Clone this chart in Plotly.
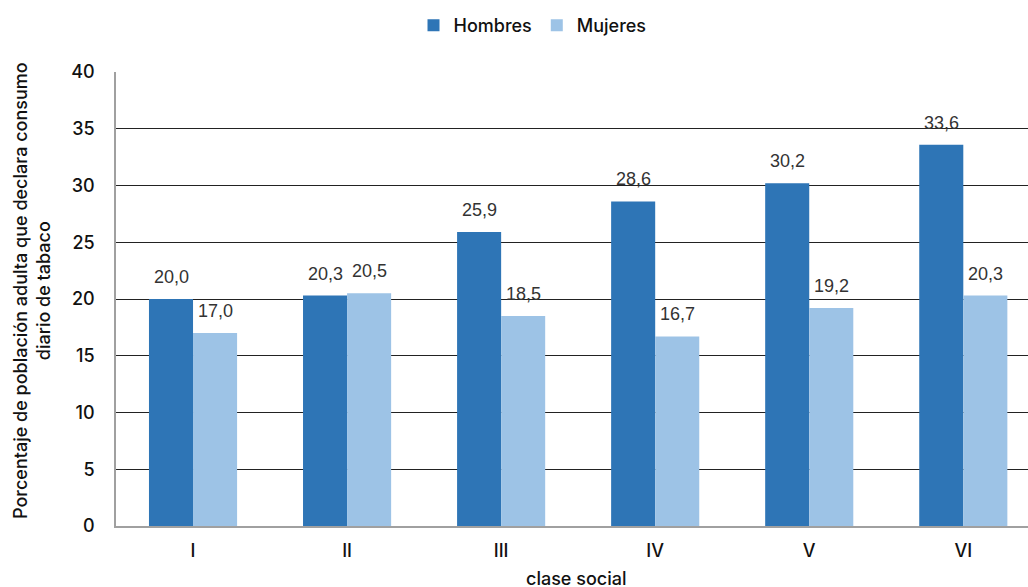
import plotly.graph_objects as go

categories = ["I", "II", "III", "IV", "V", "VI"]
hombres = [20.0, 20.3, 25.9, 28.6, 30.2, 33.6]
mujeres = [17.0, 20.5, 18.5, 16.7, 19.2, 20.3]

FONT = "Inter, Liberation Sans, Arial, sans-serif"
LABFONT = "Liberation Sans, Arial, sans-serif"

fig = go.Figure()
fig.add_trace(go.Bar(
    name="Hombres", x=categories, y=hombres,
    marker=dict(color="#2E75B6", line=dict(width=0)),
))
fig.add_trace(go.Bar(
    name="Mujeres", x=categories, y=mujeres,
    marker=dict(color="#9DC3E6", line=dict(width=0)),
))

def fmt(v):
    return f"{v:.1f}".replace(".", ",")

annotations = []
for series, shift in ((hombres, -22), (mujeres, 22)):
    for c, v in zip(categories, series):
        annotations.append(dict(
            text=fmt(v), x=c, y=v, xref="x", yref="y",
            xshift=shift, yshift=10, xanchor="center", yanchor="bottom",
            showarrow=False,
            font=dict(family=LABFONT, size=18, color="#333333"),
        ))

annotations += [
    dict(text="Porcentaje de población adulta que declara consumo<br>diario de tabaco",
         xref="paper", yref="paper", x=(32 - 116) / 912, y=(526 - 291) / 454,
         xanchor="center", yanchor="middle", textangle=-90, showarrow=False,
         font=dict(family=FONT, size=18, color="#111111", weight=500)),
    dict(text="clase social",
         xref="paper", yref="paper", x=(576 - 116) / 912, y=-(578 - 526) / 454,
         xanchor="center", yanchor="middle", showarrow=False,
         font=dict(family=FONT, size=18, color="#111111", weight=500)),
]

fig.update_layout(
    width=1028, height=587,
    margin=dict(l=116, r=0, t=72, b=61, autoexpand=False),
    paper_bgcolor="white", plot_bgcolor="white",
    separators=",.",
    barmode="group", bargap=0.428, bargroupgap=0,
    font=dict(family=FONT, size=18, color="#111111", weight=500),
    showlegend=True,
    legend=dict(orientation="h", xref="container", yref="container",
                x=0.518, xanchor="center", y=0.988, yanchor="top",
                font=dict(family=FONT, size=18, color="#111111", weight=500),
                itemwidth=30, traceorder="normal"),
    xaxis=dict(
        range=[-0.5, 5.42],
        showline=True, linecolor="#A0A0A0", linewidth=1.5,
        ticks="", ticklabelstandoff=8,
        tickfont=dict(family=FONT, size=18, color="#111111", weight=500),
    ),
    yaxis=dict(
        range=[0, 40], dtick=5,
        showgrid=True, gridcolor="#222222", gridwidth=1,
        showline=True, linecolor="#A0A0A0", linewidth=1.5,
        zeroline=False,
        ticks="", ticklabelstandoff=16,
        tickfont=dict(family=FONT, size=18, color="#111111", weight=500),
    ),
    annotations=annotations,
)

fig.write_html("out.html", config={"displayModeBar": False},
               post_script="document.body.style.margin='0';document.body.style.overflow='hidden';")
